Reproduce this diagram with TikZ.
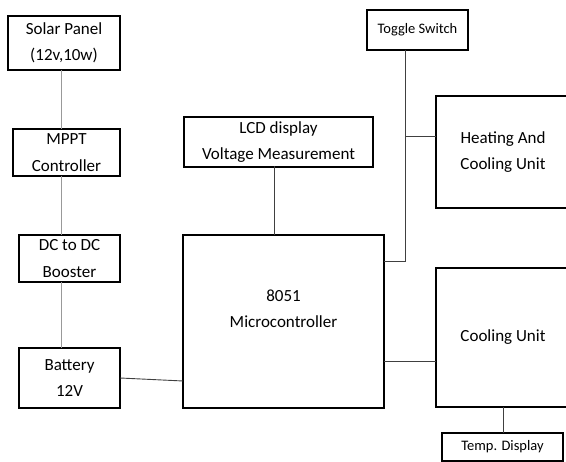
\documentclass[tikz,border=0pt]{standalone}
\usepackage{fontspec}
\setmainfont{Carlito}
\begin{document}
\begin{tikzpicture}[x=1pt,y=-1pt,
  blk/.style={draw=black,line width=1.7pt,inner sep=0pt,align=center,
    font=\fontsize{17}{26.5}\selectfont},
  smallblk/.style={blk,font=\fontsize{14.5}{18}\selectfont},
  txt/.style={inner sep=0pt,align=center,font=\fontsize{17}{26.5}\selectfont},
  lite/.style={draw=black!40,line width=0.9pt},
  dark/.style={draw=black!75,line width=0.9pt}]
\useasboundingbox (0,0) rectangle (566,462);
\clip (0,0) rectangle (566,462);
% connector end points
\coordinate (c1) at (61,70);
\coordinate (c2) at (61,129);
\coordinate (c3) at (61,176);
\coordinate (c4) at (61,235);
\coordinate (c5) at (61,282);
\coordinate (c6) at (61,348);
\coordinate (bt) at (120,378);
\coordinate (mcl) at (183,381);
\coordinate (lcdb) at (274,166);
\coordinate (mct) at (274,235);
\coordinate (tgb) at (405,50);
\coordinate (tgj) at (405,136);
\coordinate (tgk) at (405,261);
\coordinate (mcr) at (384,261);
\coordinate (hcl) at (436,136);
\coordinate (mcr2) at (384,361);
\coordinate (cul) at (436,361);
\coordinate (cub) at (503,407);
\coordinate (tdt) at (503,433);
% blocks
\node[blk,minimum width=112pt,minimum height=54pt] (solar) at (64,43) {Solar Panel\\(12v,10w)};
\node[blk,minimum width=107pt,minimum height=47pt] (mppt) at (66.5,152.5) {MPPT\\Controller};
\node[blk,minimum width=101pt,minimum height=47pt] (dcdc) at (69.5,258.5) {DC to DC\\Booster};
\node[blk,minimum width=101pt,minimum height=60pt] (batt) at (69.5,378) {Battery\\12V};
\node[blk,minimum width=201pt,minimum height=173pt] (mcu) at (283.5,321.5) {};
\node[txt] (mcut) at ([yshift=12.5pt]mcu.center) {8051\\Microcontroller};
\node[blk,minimum width=189pt,minimum height=50pt] (lcd) at (278.5,142) {LCD display\\Voltage Measurement};
\node[smallblk,minimum width=101pt,minimum height=40pt] (tog) at (417.5,30) {Toggle Switch};
\node[blk,minimum width=134pt,minimum height=112pt] (heat) at (503,152) {Heating And\\Cooling Unit};
\node[blk,minimum width=134pt,minimum height=139pt] (cool) at (503,337.5) {Cooling Unit};
\node[smallblk,minimum width=121pt,minimum height=28pt] (temp) at (502.5,447) {Temp. Display};
% wires
\draw[lite] (c1) -- (c2);
\draw[lite] (c3) -- (c4);
\draw[lite] (c5) -- (c6);
\draw[dark] (bt) -- (mcl);
\draw[dark] (lcdb) -- (mct);
\draw[dark] (tgb) -- (tgk) -- (mcr);
\draw[dark] (tgj) -- (hcl);
\draw[dark] (mcr2) -- (cul);
\draw[dark] (cub) -- (tdt);
\end{tikzpicture}
\end{document}
